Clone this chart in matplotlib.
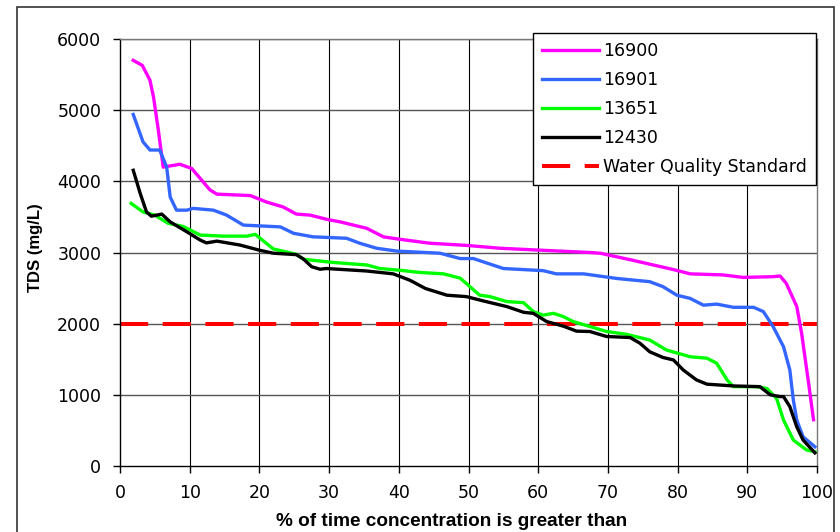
import matplotlib
matplotlib.use("Agg")
import matplotlib.pyplot as plt
from matplotlib.patches import Rectangle

plt.rcParams['font.family'] = ['DejaVu Sans']

# ---- data ----
x_16900 = [1.9, 3.2, 4.3, 4.8, 5.5, 6.2, 8.6, 10.3, 12.9, 13.9, 18.7, 21.0, 23.4, 25.3, 27.3, 29.7,
           31.6, 33.5, 35.4, 37.8, 40.2, 44.5, 49.7, 54.5, 59.8, 67.4, 68.9, 73.6, 79.4, 81.8,
           86.5, 89.4, 93.7, 94.7, 95.6, 97.1, 97.8, 98.8, 99.5]
y_16900 = [5700, 5630, 5420, 5190, 4720, 4200, 4240, 4180, 3880, 3820, 3800, 3710, 3640, 3540, 3525, 3465,
           3430, 3385, 3340, 3220, 3185, 3130, 3100, 3060, 3035, 3000, 2990, 2890, 2760, 2700,
           2685, 2650, 2660, 2670, 2565, 2240, 1860, 1160, 650]

x_16901 = [1.9, 3.3, 4.3, 5.7, 6.7, 7.2, 8.1, 9.6, 10.5, 13.4, 15.3, 17.7, 23.0, 24.9, 27.7, 32.5,
           34.4, 36.8, 39.7, 45.9, 48.8, 50.7, 55.0, 60.7, 62.6, 66.5, 71.3, 76.0, 77.9, 79.9,
           81.8, 83.7, 85.6, 88.0, 90.9, 92.3, 93.7, 95.2, 96.1, 96.6, 97.1, 98.0, 99.7]
y_16901 = [4940, 4555, 4440, 4440, 4200, 3780, 3595, 3595, 3620, 3595, 3525, 3385, 3360, 3270, 3220, 3200,
           3130, 3060, 3020, 2990, 2915, 2915, 2775, 2745, 2700, 2700, 2635, 2590, 2520, 2400,
           2355, 2260, 2275, 2230, 2230, 2170, 1960, 1675, 1350, 930, 645, 410, 270]

x_13651 = [1.6, 3.3, 5.0, 6.9, 9.1, 11.5, 14.8, 18.2, 19.4, 20.1, 22.0, 25.3, 26.3, 30.6, 35.4, 37.3,
           40.2, 43.0, 46.4, 48.8, 50.2, 51.6, 53.1, 55.5, 57.9, 59.3, 60.7, 62.2, 63.6, 65.0,
           67.4, 69.8, 72.7, 76.0, 78.4, 81.8, 84.2, 85.6, 87.1, 88.0, 91.3, 92.8, 94.2, 95.2,
           96.6, 98.5, 99.7]
y_13651 = [3690, 3570, 3525, 3410, 3365, 3245, 3230, 3230, 3255, 3200, 3050, 2975, 2905, 2860, 2825, 2775,
           2750, 2720, 2700, 2640, 2520, 2400, 2380, 2310, 2295, 2170, 2120, 2145, 2100, 2030,
           1960, 1890, 1850, 1770, 1630, 1535, 1515, 1445, 1210, 1115, 1115, 1090, 950, 645,
           365, 225, 200]

x_12430 = [1.9, 2.9, 3.8, 4.5, 6.0, 7.2, 9.6, 11.5, 12.4, 13.9, 17.2, 20.1, 22.0, 25.3, 26.3, 27.5,
           28.7, 29.6, 35.4, 39.2, 41.6, 43.8, 46.9, 49.7, 52.1, 55.5, 57.9, 59.3, 61.2, 63.6,
           65.5, 67.4, 69.8, 73.2, 74.6, 76.0, 77.9, 79.4, 80.8, 82.7, 84.2, 88.0, 91.8, 93.3,
           94.7, 95.2, 96.1, 97.1, 98.0, 99.7]
y_12430 = [4155, 3830, 3570, 3510, 3540, 3430, 3290, 3175, 3135, 3160, 3105, 3030, 2990, 2970, 2910, 2800,
           2765, 2775, 2740, 2700, 2610, 2495, 2400, 2380, 2320, 2240, 2160, 2145, 2030, 1965,
           1895, 1890, 1820, 1805, 1725, 1605, 1525, 1490, 1350, 1210, 1150, 1125, 1115, 1000,
           975, 975, 835, 550, 365, 185]

standard_x = [0, 100]
standard_y = [2000, 2000]

series = [("16900", x_16900, y_16900, "#ff00ff"),
          ("16901", x_16901, y_16901, "#3366ff"),
          ("13651", x_13651, y_13651, "#00ff00"),
          ("12430", x_12430, y_12430, "#000000")]

x_ticks = [0, 10, 20, 30, 40, 50, 60, 70, 80, 90, 100]
y_ticks = [0, 1000, 2000, 3000, 4000, 5000, 6000]

# ---- figure ----
fig = plt.figure(figsize=(8.4, 5.32), dpi=100)
ax = fig.add_axes([120/840, 1-466/532, 697/840, 427/532])

fig.patches.append(Rectangle((17/840, -0.05), (834-17)/840, 1.05-7/532, transform=fig.transFigure,
                             fill=False, edgecolor='#333333', linewidth=1.2))

for lab, xs, ys, c in series:
    ax.plot(xs, ys, color=c, lw=2.4, label=lab, solid_joinstyle='round', zorder=3)
ax.plot(standard_x, standard_y, color='#ff0000', lw=2.9, dashes=(7, 3.6),
        label='Water Quality Standard', zorder=2)

ax.set_xlim(0, 100)
ax.set_ylim(0, 6000)
ax.set_xticks(x_ticks)
ax.set_yticks(y_ticks)
ax.tick_params(direction='out', length=5, width=1, labelsize=12.5, colors='#000000')
ax.tick_params(axis='y', pad=8.5)
ax.tick_params(axis='x', pad=8)

for v in x_ticks[1:-1]:
    ax.axvline(v, color='#000000', lw=0.8, zorder=1)
for v in y_ticks[1:]:
    ax.axhline(v, color='#555555', lw=1.0, zorder=1)

for s in ['left', 'bottom']:
    ax.spines[s].set_color('#000000')
    ax.spines[s].set_linewidth(1.0)
for s in ['right', 'top']:
    ax.spines[s].set_color('#777777')
    ax.spines[s].set_linewidth(1.0)

ax.set_xlabel('% of time concentration is greater than', fontsize=13.7, fontweight='bold',
              family='Liberation Sans')
ax.xaxis.set_label_coords((452-120)/697, (466-513.5)/427)
ax.set_ylabel('TDS (mg/L)', fontsize=12, fontweight='bold', family='Liberation Sans')
ax.yaxis.set_label_coords((36-120)/697, (466-247.5)/427)
ax.yaxis.label.set_va('center')

leg = fig.legend(loc='upper right', bbox_to_anchor=(816/840, 1-33/532), bbox_transform=fig.transFigure,
                 fontsize=12.5, frameon=True, fancybox=False, edgecolor='#000000', framealpha=1,
                 handlelength=3.3, handletextpad=0.25, labelspacing=0.64, borderpad=0.5,
                 borderaxespad=0)
leg.get_frame().set_linewidth(1.0)

fig.savefig('out.png', dpi=100)
